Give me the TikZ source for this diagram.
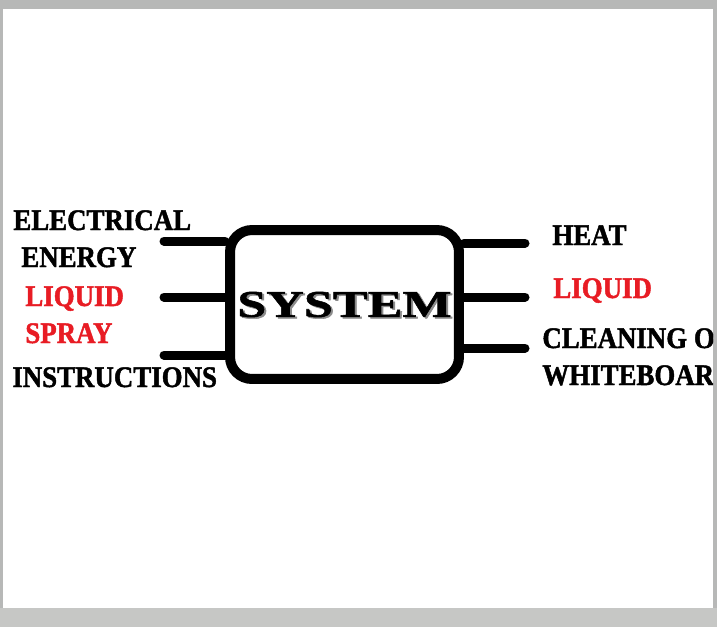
\documentclass[tikz,border=0pt]{standalone}
\usepackage{fontspec}
\newfontfamily\stencilfont[FakeStretch=0.9,FakeBold=1.5]{Liberation Serif}
\newfontfamily\sysfont[FakeStretch=1.38,FakeBold=1.5]{Liberation Serif}
\definecolor{liquidred}{RGB}{232,28,36}
\definecolor{framegray}{RGB}{183,184,183}
\definecolor{basegray}{RGB}{198,199,197}
\begin{document}
\begin{tikzpicture}[x=0.02cm,y=-0.02cm,
    lbl/.style={anchor=base west,inner sep=0pt,font=\stencilfont\bfseries\fontsize{17}{19}\selectfont},
    redlbl/.style={lbl,text=liquidred},
    stub/.style={line width=0.18cm,line cap=round},
    sysbox/.style={draw,line width=0.2cm,rounded corners=0.44cm,minimum width=4.58cm,minimum height=2.98cm,inner sep=0pt}]
    % frame and page
    \fill[framegray] (0,0) rectangle (717,627);
    \fill[basegray] (0,608) rectangle (717,627);
    \fill[white] (3,9) rectangle (713,608);
    \begin{scope}
        \clip (3,9) rectangle (713,608);
        % the system box
        \node[text=black!45,font=\sysfont\bfseries\fontsize{21.5}{24}\selectfont] at (346.5,306) {SYSTEM};
        \node[sysbox,font=\sysfont\bfseries\fontsize{21.5}{24}\selectfont] (sys) at (344.5,304.5) {SYSTEM};
        % inputs
        \node[lbl] (elec) at (13,230) {ELECTRICAL};
        \node[lbl] (energy) at (21,267) {ENERGY};
        \node[redlbl] (liqin) at (25,306) {LIQUID};
        \node[redlbl] (spray) at (25,343) {SPRAY};
        \node[lbl] (instr) at (12,387) {INSTRUCTIONS};
        % outputs
        \node[lbl] (heat) at (552,245) {HEAT};
        \node[redlbl] (liqout) at (553,298) {LIQUID};
        \node[lbl] (clean) at (542,348) {CLEANING OF};
        \node[lbl] (wboard) at (542,385) {WHITEBOARD};
        % stubs
        \coordinate (i1) at (164,241);
        \coordinate (i2) at (164,297);
        \coordinate (i3) at (164,355);
        \coordinate (o1) at (525,243);
        \coordinate (o2) at (525,297);
        \coordinate (o3) at (525,348);
        \foreach \c in {i1,i2,i3}{
            \draw[stub] (\c) -- (\c -| sys.west);
        }
        \foreach \c in {o1,o2,o3}{
            \draw[stub] (\c -| sys.east) -- (\c);
        }
    \end{scope}
\end{tikzpicture}
\end{document}
